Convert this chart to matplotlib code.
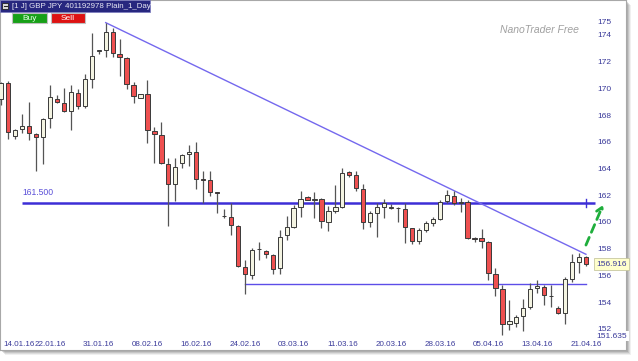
import matplotlib
matplotlib.use('Agg')
import matplotlib.pyplot as plt
from matplotlib.patches import Rectangle
from matplotlib.lines import Line2D

plt.rcParams['font.family'] = ['Liberation Sans', 'DejaVu Sans']

# ---------------- data (daily GBP/JPY candles, index = bar number) ----------------
opens = [169.28, 170.50, 166.51, 167.03, 167.26, 166.66, 166.43, 167.86, 169.28, 168.98,
         168.38, 169.73, 168.76, 170.78, 172.93, 172.95, 174.30, 172.65, 172.35, 170.33,
         169.36, 169.66, 166.88, 166.58, 164.41, 162.91, 164.49, 165.16, 165.31, 163.25,
         163.21, 162.31, 160.50, 160.44, 159.77, 156.70, 156.10, 158.02, 157.89, 157.59,
         156.62, 159.09, 159.69, 161.19, 161.94, 161.77, 161.79, 160.07, 160.89, 161.19,
         163.81, 163.59, 162.54, 160.07, 160.74, 161.19, 161.17, 161.12, 161.04, 159.62,
         158.64, 159.47, 159.99, 160.29, 161.64, 162.01, 161.54, 161.56, 158.87, 158.87,
         158.57, 156.17, 155.05, 152.43, 152.50, 153.03, 153.70, 155.12, 155.20, 154.54,
         153.62, 153.25, 155.80, 157.07, 157.44]
highs = [170.55, 170.60, 167.03, 168.16, 169.06, 166.73, 167.86, 170.33, 169.58, 170.10,
         170.33, 170.03, 171.15, 174.22, 172.96, 174.97, 174.60, 173.78, 172.40, 170.55,
         169.68, 170.70, 167.18, 167.56, 164.86, 164.86, 165.16, 165.83, 166.06, 163.89,
         163.89, 162.35, 161.04, 161.49, 159.84, 157.22, 158.12, 158.57, 157.95, 157.67,
         159.47, 160.52, 161.34, 162.39, 162.01, 162.31, 161.86, 161.27, 162.84, 164.11,
         163.89, 163.89, 162.91, 160.89, 161.49, 161.79, 161.41, 161.19, 161.49, 159.65,
         159.62, 160.14, 160.44, 161.71, 162.46, 162.39, 161.86, 161.71, 158.94, 159.54,
         158.64, 156.62, 155.35, 154.22, 153.10, 154.30, 155.50, 155.72, 155.35, 155.35,
         153.77, 155.95, 157.67, 157.74, 157.52]
lows = [168.83, 166.28, 166.28, 166.73, 166.21, 163.89, 164.41, 167.11, 168.98, 168.31,
        166.96, 168.53, 168.61, 170.10, 172.65, 172.43, 172.43, 171.00, 170.03, 168.98,
        169.34, 165.98, 164.49, 164.41, 159.77, 161.64, 164.11, 164.26, 162.54, 161.49,
        162.01, 160.74, 160.37, 159.09, 156.70, 154.67, 155.80, 157.22, 157.37, 156.17,
        156.17, 158.72, 159.62, 160.44, 161.71, 160.37, 159.62, 159.39, 160.74, 161.12,
        163.44, 162.39, 159.54, 159.69, 158.94, 160.37, 161.04, 160.07, 158.49, 158.42,
        158.42, 159.32, 159.77, 160.22, 161.49, 161.34, 160.82, 158.80, 158.57, 158.12,
        155.72, 154.52, 151.635, 151.98, 152.20, 151.90, 153.55, 154.75, 153.85, 153.70,
        153.17, 152.43, 155.57, 156.25, 156.77]
closes = [170.48, 166.81, 166.96, 167.26, 166.73, 166.43, 167.78, 169.43, 169.06, 168.38,
          169.80, 168.76, 170.78, 172.50, 172.95, 174.30, 172.73, 172.43, 170.40, 169.51,
          169.66, 166.96, 166.66, 164.49, 162.91, 164.19, 165.09, 165.31, 163.29, 163.21,
          162.31, 162.28, 160.52, 159.84, 156.77, 156.17, 157.97, 158.06, 157.67, 156.55,
          158.94, 159.69, 161.12, 161.79, 161.75, 161.79, 160.14, 160.89, 161.19, 163.74,
          163.59, 162.61, 160.07, 160.74, 161.19, 161.49, 161.19, 161.10, 159.69, 158.64,
          159.47, 159.99, 160.29, 161.56, 162.09, 161.49, 161.56, 158.87, 158.85, 158.64,
          156.25, 155.12, 152.43, 152.65, 152.95, 153.62, 155.05, 155.27, 154.60, 154.52,
          153.25, 155.80, 157.07, 157.44, 156.916]

date_labels = ['14.01.16', '22.01.16', '31.01.16', '08.02.16', '16.02.16', '24.02.16', '03.03.16',
               '11.03.16', '20.03.16', '28.03.16', '05.04.16', '13.04.16', '21.04.16']
date_index = [0, 7, 14, 21, 28, 35, 42, 49, 56, 63, 70, 77, 84]
price_ticks = [175, 174, 172, 170, 168, 166, 164, 162, 160, 158, 156, 154, 152]

level_line = 161.5
support_line = 155.4
support_start = 35
trend_x = [15, 84]
trend_y = [175.0, 157.65]
arrow_from = (84.0, 158.34)
arrow_to = (86.45, 161.34)
last_price = 156.916
period_low = 151.635

# ---------------- figure / panel ----------------
W, H = 638, 361
fig = plt.figure(figsize=(W / 100, H / 100), dpi=100)
fig.patch.set_facecolor('white')

panel_w, panel_h = 626, 350
# drop shadow of the chart panel (drawn below the axes)
for k, a in [(5, 0.10), (4, 0.15), (3, 0.2), (2, 0.25)]:
    fig.patches.append(Rectangle((k / W, (H - panel_h - k) / H), panel_w / W, panel_h / H,
                                 transform=fig.transFigure, facecolor='#707070', alpha=a,
                                 edgecolor='none', zorder=-5))

ax = fig.add_axes([0, (H - panel_h) / H, panel_w / W, panel_h / H])
ax.set_zorder(1)
ax.set_facecolor('white')
px_per_bar = 6.96
x0_px = 1.3
px_per_unit = 13.35
ax.set_xlim(-x0_px / px_per_bar, (panel_w - x0_px) / px_per_bar)
ax.set_ylim(174 - (panel_h - 36) / px_per_unit, 174 + 36 / px_per_unit)
ax.set_xticks([])
ax.set_yticks([])
for s in ax.spines.values():
    s.set_color('#a8a8a8')
    s.set_linewidth(0.8)

# ---------------- candles ----------------
xs = list(range(len(opens)))
ax.vlines(xs, lows, highs, color='#555555', linewidth=0.9, zorder=3)
for i in xs:
    o, c = opens[i], closes[i]
    up = c >= o
    bottom = min(o, c)
    h = abs(c - o)
    if h < 0.06:
        bottom = (o + c) / 2 - 0.03
        h = 0.06
    ax.bar(i, h, bottom=bottom, width=0.62,
           color='#f4f4e2' if up else '#ee5050',
           edgecolor='#3a3a3a', linewidth=0.7, zorder=4)

# ---------------- lines ----------------
line_col = '#3d2ed6'
ax.plot([2.95, 85.3], [level_line, level_line], color=line_col, linewidth=1.8, zorder=2,
        solid_capstyle='butt')
ax.plot([84.0, 84.0], [level_line - 0.3, level_line + 0.3], color=line_col, linewidth=1.0, zorder=2)
ax.text(3.0, level_line + 0.45, '161.500', color='#5a4fd8', fontsize=6.2, va='bottom', ha='left')

ax.plot([support_start, 84], [support_line, support_line], color='#5c4ee8', linewidth=1.0, zorder=2)
ax.plot(trend_x, trend_y, color='#7468ee', linewidth=1.0, zorder=2)

ax.annotate('', xy=arrow_to, xytext=arrow_from,
            arrowprops=dict(arrowstyle='->,head_width=0.25,head_length=0.4', color='#1fae3c',
                            linewidth=2.0, linestyle=(0, (3, 2)), shrinkA=0, shrinkB=0),
            zorder=5)

# ---------------- price axis labels ----------------
lab_x = (597 - x0_px) / px_per_bar
tick_col = '#3a3a9a'
for p in price_ticks:
    ax.text(lab_x, p, str(p), color=tick_col, fontsize=6.0, ha='left', va='center', zorder=6)

ax.text(lab_x - 0.1, last_price, f'{last_price:.3f}', color=tick_col, fontsize=6.0,
        ha='left', va='center', zorder=8,
        bbox=dict(boxstyle='square,pad=0.25', facecolor='#ffffcc', edgecolor='#c8c8a0', linewidth=0.6))
ax.text(lab_x - 0.1, period_low - 0.12, f'{period_low:.3f}', color=tick_col, fontsize=6.0,
        ha='left', va='center', zorder=8,
        bbox=dict(boxstyle='square,pad=0.2', facecolor='white', edgecolor='none'))

# ---------------- date labels ----------------
date_y = 174 - (345 - 36) / px_per_unit
for i, lab in zip(date_index, date_labels):
    if i == 0:
        ax.text((3 - x0_px) / px_per_bar, date_y, lab, color=tick_col, fontsize=5.8,
                ha='left', va='center')
    else:
        ax.text(i, date_y, lab, color=tick_col, fontsize=5.8, ha='center', va='center')

# ---------------- watermark ----------------
ax.text((579 - x0_px) / px_per_bar, 174 + 6 / px_per_unit, 'NanoTrader Free', color='#a0a0a0',
        fontsize=7.5, style='italic', ha='right', va='center')

# ---------------- title bar and buttons ----------------
def fig_rect(x, y, w, h, **kw):
    fig.patches.append(Rectangle((x / W, 1 - (y + h) / H), w / W, h / H,
                                 transform=fig.transFigure, **kw))

fig_rect(0, 0, 150, 12, facecolor='#27277f', edgecolor='#8080c0', linewidth=0.6, zorder=10)
fig_rect(2, 2.5, 6, 6, facecolor='#d8d8d8', edgecolor='#222222', linewidth=0.6, zorder=11)
fig.lines.append(Line2D([3.5 / W, 6.5 / W], [1 - 5.5 / H, 1 - 5.5 / H],
                        transform=fig.transFigure, color='#222222', linewidth=0.7, zorder=12))
fig.text(12 / W, 1 - 6 / H, '[1 J] GBP JPY', color='#e8e8f4',
         fontsize=5.7, ha='left', va='center', zorder=12)
fig.text(65 / W, 1 - 6 / H, '401192978 Plain_1_Day', color='#e8e8f4',
         fontsize=5.7, ha='left', va='center', zorder=12)

fig_rect(12, 13, 35, 10, facecolor='#17a017', edgecolor='#c0c0c0', linewidth=0.8, zorder=10)
fig.text(29.5 / W, 1 - 18 / H, 'Buy', color='#e8ffe8', fontsize=6.0, ha='center', va='center', zorder=12)
fig_rect(51, 13, 34, 10, facecolor='#dd1212', edgecolor='#c0c0c0', linewidth=0.8, zorder=10)
fig.text(68 / W, 1 - 18 / H, 'Sell', color='white', fontsize=6.0, ha='center', va='center', zorder=12)

fig.savefig('out.png', dpi=100)
